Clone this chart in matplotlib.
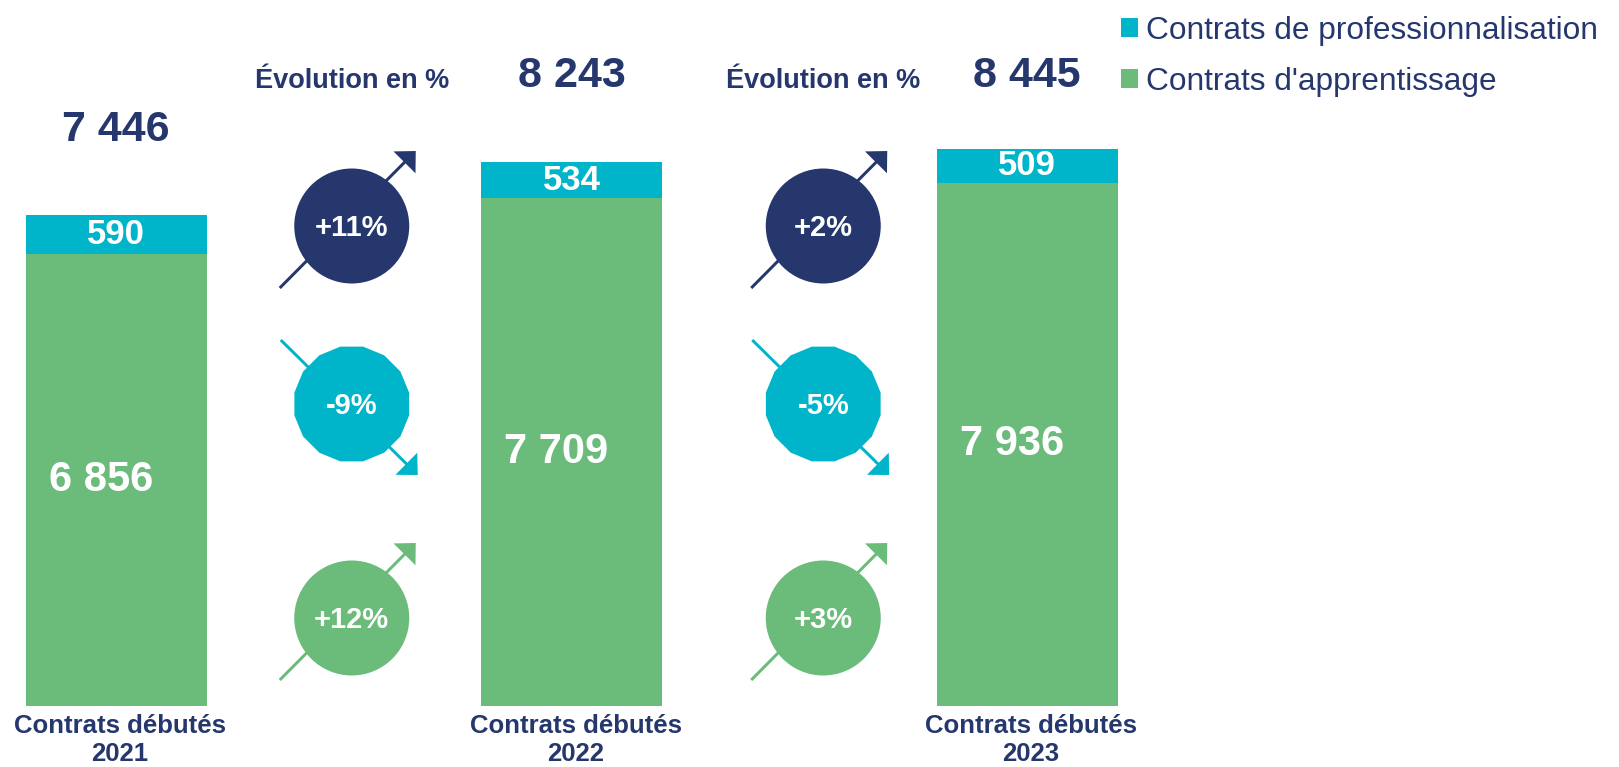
import matplotlib.pyplot as plt
from matplotlib.patches import Circle, RegularPolygon

plt.rcParams['font.family'] = ['Liberation Sans', 'DejaVu Sans']

# data
years = ['2021', '2022', '2023']
apprentissage = [6856, 7709, 7936]
professionnalisation = [590, 534, 509]
label_appr = "Contrats d'apprentissage"
label_pro = "Contrats de professionnalisation"

NAVY = '#25376D'
CYAN = '#00B5C9'
GREEN = '#6BBB7B'

W, H = 1619, 767
PX_PER_UNIT = 0.06594
SLOT = 455.5


def fmt(v):
    return f"{v:,}".replace(",", " ")


def pct(new, old):
    return f"{round((new / old - 1) * 100):+d}%"


fig = plt.figure(figsize=(W / 100, H / 100), dpi=100)

# bar axes placed so that 0 sits at the bar baseline
ax = fig.add_axes([0, 61 / H, 1, 706 / H])
ax.set_xlim(-116 / SLOT, (W - 116) / SLOT)
ax.set_ylim(0, 706 / PX_PER_UNIT)
ax.axis('off')

x = list(range(len(years)))
totals = [a + p for a, p in zip(apprentissage, professionnalisation)]
bw = 181 / SLOT
appr_bars = ax.bar(x, apprentissage, width=bw, color=GREEN, label=label_appr)
pro_bars = ax.bar(x, professionnalisation, width=bw, bottom=apprentissage,
                  color=CYAN, label=label_pro)

for i in x:
    # the big inner labels sit a little left of the bar centre in the original
    ax.text(i - 15 / SLOT, apprentissage[i] / 2, fmt(apprentissage[i]),
            ha='center', va='center', color='white', fontsize=30,
            fontweight='bold')
    ax.text(i, apprentissage[i] + professionnalisation[i] / 2,
            fmt(professionnalisation[i]), ha='center', va='center',
            color='white', fontsize=25, fontweight='bold')

ax.legend(handles=[pro_bars, appr_bars], loc='upper left',
          bbox_to_anchor=(1121 / W, 1 - 16 / H), bbox_transform=fig.transFigure,
          frameon=False, fontsize=22.8, labelcolor=NAVY, handlelength=0.53,
          handleheight=0.53, handletextpad=0.25, labelspacing=0.65,
          borderpad=0, borderaxespad=0)

# overlay in pixel coordinates (top-down) for the decorations
ov = fig.add_axes([0, 0, 1, 1], zorder=3)
ov.set_xlim(0, W)
ov.set_ylim(H, 0)
ov.axis('off')
ov.patch.set_visible(False)

fig.canvas.draw()
bar_px = [ax.transData.transform((i, 0))[0] for i in x]

total_y = [130, 76, 76]
for i in x:
    ov.text(bar_px[i], total_y[i], fmt(totals[i]), ha='center', va='center',
            color=NAVY, fontsize=31, fontweight='bold')
    ov.text(bar_px[i] + 4, 726, 'Contrats débutés', ha='center', va='center',
            color=NAVY, fontsize=18.5, fontweight='bold')
    ov.text(bar_px[i] + 4, 754, years[i], ha='center', va='center',
            color=NAVY, fontsize=18.5, fontweight='bold')

# evolution badges between bars
circ_shift = [8, 24]
rows = [
    (226, NAVY, totals, 'circle'),
    (404, CYAN, professionnalisation, 'poly'),
    (618, GREEN, apprentissage, 'circle'),
]
R = 57.5
for g in range(len(years) - 1):
    cx = (bar_px[g] + bar_px[g + 1]) / 2 + circ_shift[g]
    ov.text(cx, 81, 'Évolution en %', ha='center', va='center', color=NAVY,
            fontsize=19.5, fontweight='bold')
    for cy, col, series, shape in rows:
        up = series[g + 1] >= series[g]
        if up:
            tail = (cx - 72, cy + 62)
            tip = (cx + 64, cy - 75)
        else:
            tail = (cx - 71, cy - 64)
            tip = (cx + 66, cy + 71)
        ov.arrow(tail[0], tail[1], tip[0] - tail[0], tip[1] - tail[1],
                 width=3, head_width=31, head_length=16,
                 length_includes_head=True, fc=col, ec='none', zorder=1)
        if shape == 'poly':
            ov.add_patch(RegularPolygon((cx, cy), numVertices=16, radius=R + 1,
                                        orientation=3.14159 / 16, fc=col,
                                        ec='none', zorder=2))
        else:
            ov.add_patch(Circle((cx, cy), R, fc=col, ec='none', zorder=2))
        ov.text(cx, cy + 2, pct(series[g + 1], series[g]), ha='center',
                va='center', color='white', fontsize=21, fontweight='bold',
                zorder=3)

fig.savefig('out.png', dpi=100)
